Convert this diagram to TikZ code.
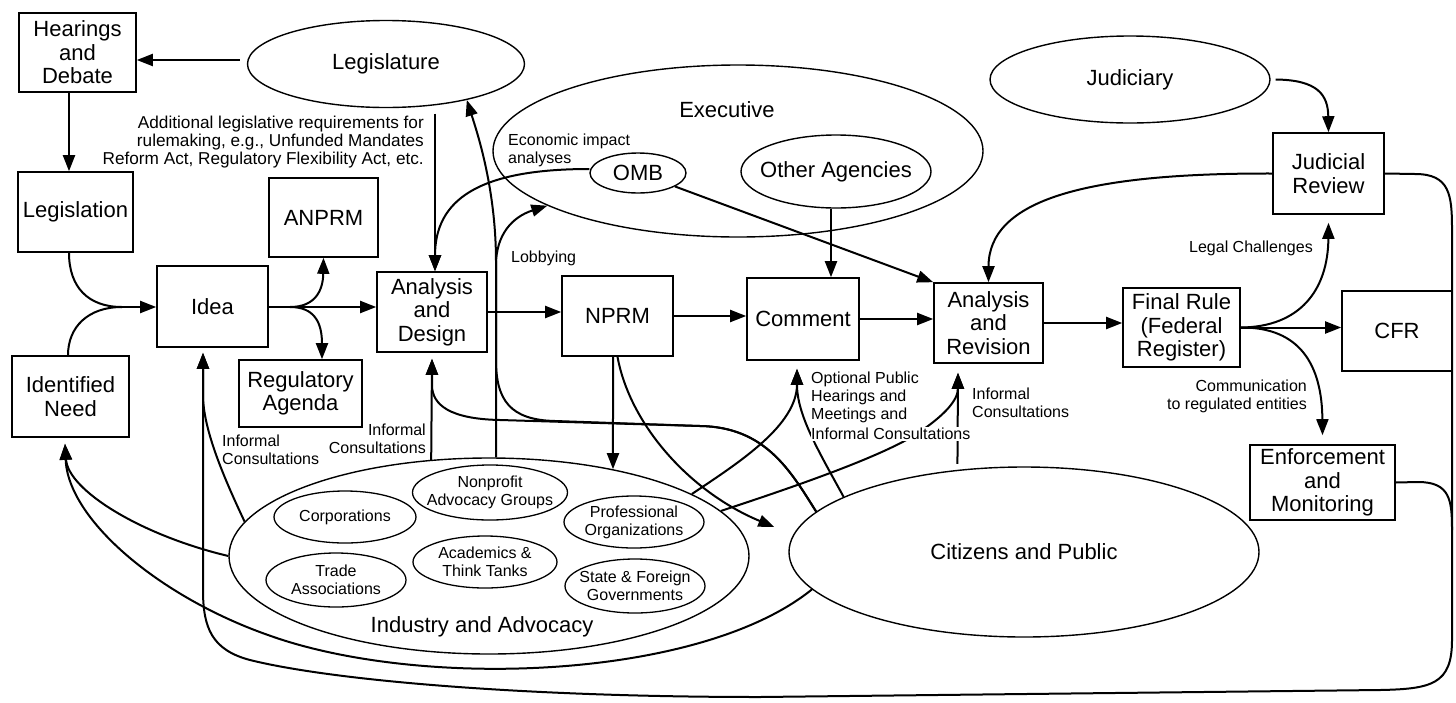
\documentclass[tikz,border=0pt]{standalone}
\usepackage{fontspec}
\setmainfont{Liberation Sans}
\usetikzlibrary{shapes.geometric,arrows.meta,calc}

\newcommand{\boxfont}{\fontsize{22}{23.5}\selectfont}
\newcommand{\notefont}{\fontsize{16}{18}\selectfont}
\newcommand{\lawfont}{\fontsize{17.2}{18}\selectfont}

\begin{document}
\begin{tikzpicture}[x=1pt,y=-1pt]

\tikzstyle{stepbox}=[rectangle,draw,line width=1.6pt,inner sep=0pt,align=center,font=\boxfont]
\tikzstyle{bodynode}=[ellipse,draw,line width=1.4pt,inner sep=0pt,inner xsep=-20pt,align=center,font=\boxfont]
\tikzstyle{groupnode}=[ellipse,draw,line width=1.3pt,inner sep=0pt,inner xsep=-15pt,align=center,font=\notefont]
\tikzstyle{note}=[inner sep=0pt,font=\notefont]
\tikzstyle{flow}=[line width=2pt]
\tikzstyle{flowarr}=[line width=2pt,-{Triangle[length=16pt,width=12pt]}]

\useasboundingbox (0,0) rectangle (1456,702);

\begin{scope}[]

% bodies
\node [bodynode,minimum width=277pt,minimum height=87pt] (legis) at (386,64){Legislature};
\node [bodynode,minimum width=490pt,minimum height=172pt] (exec) at (738,151){};
\node [font=\boxfont] (execlbl) at (727,110){Executive};
\node [bodynode,minimum width=96pt,minimum height=40pt] (omb) at (638,173){OMB};
\node [bodynode,minimum width=190pt,minimum height=73pt] (other) at (836,171.5){Other Agencies};
\node [bodynode,minimum width=280pt,minimum height=87pt] (judi) at (1130,79.5){Judiciary};
\node [bodynode,minimum width=520pt,minimum height=196pt] (industry) at (489,556){};
\node [font=\boxfont] (industrylbl) at (482,627){Industry and Advocacy};
\node [bodynode,minimum width=470pt,minimum height=170pt] (citizens) at (1024,552){Citizens and Public};

\node [groupnode,minimum width=142pt,minimum height=52pt] (corp) at (345,517){Corporations};
\node [groupnode,minimum width=155pt,minimum height=55pt] (nonprofit) at (490,492.5){Nonprofit\\Advocacy Groups};
\node [groupnode,minimum width=140pt,minimum height=52pt] (prof) at (634,522){Professional\\Organizations};
\node [groupnode,minimum width=140pt,minimum height=54pt] (trade) at (336,580){Trade\\Associations};
\node [groupnode,minimum width=144pt,minimum height=52pt] (academics) at (485,562){Academics \&\\Think Tanks};
\node [groupnode,minimum width=140pt,minimum height=54pt] (state) at (635,586){State \& Foreign\\Governments};

% steps
\node [stepbox,minimum width=117pt,minimum height=79pt] (hear) at (77.5,52.5){Hearings\\and\\Debate};
\node [stepbox,minimum width=115pt,minimum height=80pt] (legisl) at (75.5,212){Legislation};
\node [stepbox,minimum width=109pt,minimum height=79pt] (anprm) at (323.5,217.5){ANPRM};
\node [stepbox,minimum width=111pt,minimum height=81pt] (idea) at (212.5,306.5){Idea};
\node [stepbox,minimum width=117pt,minimum height=81pt] (need) at (70.5,396.5){Identified\\Need};
\node [stepbox,minimum width=123pt,minimum height=67pt] (agenda) at (300.5,393.5){Regulatory\\Agenda};
\node [stepbox,minimum width=110pt,minimum height=80pt] (design) at (432,312){Analysis\\and\\Design};
\node [stepbox,minimum width=111pt,minimum height=80pt] (nprm) at (617.5,316){NPRM};
\node [stepbox,minimum width=112pt,minimum height=82pt] (comment) at (803,319){Comment};
\node [stepbox,minimum width=109pt,minimum height=80pt] (revision) at (988.5,323){Analysis\\and\\Revision};
\node [stepbox,minimum width=117pt,minimum height=79pt] (final) at (1181.5,327.5){Final Rule\\(Federal\\Register)};
\node [stepbox,minimum width=110pt,minimum height=80pt] (cfr) at (1397,331){CFR};
\node [stepbox,minimum width=111pt,minimum height=81pt] (review) at (1328.5,173.5){Judicial\\Review};
\node [stepbox,minimum width=145pt,minimum height=75pt] (enforce) at (1322.5,482.5){Enforcement\\and\\Monitoring};

\coordinate (jin) at (122,307);
\coordinate (jout) at (290,307);

% main line
\draw[flowarr] ([xshift=-7pt,yshift=4pt]legis.west)--([yshift=-7.5pt]hear.east);
\draw[flowarr] ([xshift=-8.5pt]hear.south)--([xshift=-6.5pt]legisl.north);
\draw[flow] ([xshift=-6.5pt]legisl.south) .. controls (69,287) and (88,307) .. (jin);
\draw[flow] ([xshift=-2.5pt]need.north) .. controls (68,327) and (88,307) .. (jin);
\draw[flowarr] (jin)--(jin -| idea.west);
\draw[flow] (jout -| idea.east)--(jout);
\draw[flowarr] (jout)--(jout -| design.west);
\draw[flowarr] (jout) .. controls (314,307) and (323,292) .. (anprm.south);
\draw[flowarr] (jout) .. controls (314,307) and (322,322) .. ([xshift=21.5pt]agenda.north);
\draw[flowarr] (design.east)--(design.east -| nprm.west);
\draw[flowarr] (nprm.east)--(nprm.east -| comment.west);
\draw[flowarr] (comment.east)--(comment.east -| revision.west);
\draw[flowarr] (revision.east)--(revision.east -| final.west);
\draw[flowarr] (final.east)--(final.east -| cfr.west);

% government inputs
\draw[flowarr] ([xshift=49pt,yshift=-5.5pt]legis.south)--([xshift=3pt]design.north);
\draw[flowarr] ([yshift=4pt]omb.west) .. controls (478,169) and (435,200) .. ([xshift=3pt]design.north);
\draw[flowarr] ([xshift=-5pt]other.south)--([xshift=28pt]comment.north);
\draw[flowarr] (omb.-20)--(revision.north west);
\draw[flowarr] ([xshift=5pt]judi.east) .. controls (1318,80) and (1328,95) .. (review.north);
\draw[flowarr] (review.west) .. controls (1085,173) and (988.5,200) .. (revision.north);
\draw[flowarr] (final.east) .. controls (1300,327) and (1328,290) .. ([yshift=-8pt]review.south);
\draw[flowarr] (final.east) .. controls (1300,327) and (1322,365) .. ([yshift=9pt]enforce.north);

% feedback loop
\draw[flowarr] (review.east)--(1415,174) .. controls (1450,174) and (1452,195) .. (1452,230)--(1452,640) .. controls (1452,684) and (1432,689) .. (1380,690)--(760,697) .. controls (520,697) and (330,680) .. (250,660) .. controls (212,650) and (203,628) .. (203,590)--([xshift=-9.5pt,yshift=-5pt]idea.south);
\draw[flow] (enforce.east)--(1418,482) .. controls (1450,482) and (1452,500) .. (1452,530);

% industry and citizens
\draw[flowarr] (industry.west) .. controls (140,535) and (68,490) .. ([xshift=-5.5pt,yshift=-6pt]need.south);
\draw[flowarr] (citizens.190) .. controls (700,680) and (420,690) .. (268,635) .. controls (160,597) and (68,520) .. ([xshift=-5.5pt,yshift=-6pt]need.south);
\draw[flowarr] (industry.172) .. controls (225,480) and (203,430) .. (203,395)--([xshift=-9.5pt,yshift=-5pt]idea.south);
\draw[flowarr] (industry.121)--([yshift=-6pt]design.south);
\draw[flowarr] (citizens.169) .. controls (790,470) and (765,427) .. (700,426)--(500,420) .. controls (450,419) and (432,405) .. (432,385)--([yshift=-6pt]design.south);
\draw[flowarr] (citizens.169) .. controls (790,470) and (765,427) .. (700,426)--(555,421) .. controls (510,420) and (496,400) .. (496,360)--(496,262) .. controls (496,190) and (478,135) .. (legis.-24);
\draw[flowarr] ([xshift=7pt]industry.north)--(496,265) .. controls (496,235) and (512,217) .. (exec.196);
\draw[flowarr] ([xshift=-4.5pt]nprm.south)--(industry.35);
\draw[flowarr] (nprm.south) .. controls (630,425) and (690,492) .. ([xshift=-14pt,yshift=25pt]citizens.west);
\draw[flowarr] (industry.17) .. controls (740,462) and (797,425) .. ([xshift=-6pt,yshift=-8pt]comment.south);
\draw[flowarr] (citizens.163) .. controls (818,450) and (797,415) .. ([xshift=-6pt,yshift=-8pt]comment.south);
\draw[flowarr] (industry.11) .. controls (800,485) and (885,455) .. (918,433) .. controls (945,415) and (958,400) .. ([xshift=-30.5pt,yshift=-9pt]revision.south);
\draw[flowarr] ([yshift=6pt]citizens.129)--([xshift=-30.5pt,yshift=-9pt]revision.south);

% notes
\node [note,font=\lawfont,align=right,anchor=east] (lawnote) at (424,142){Additional legislative requirements for\\rulemaking, e.g., Unfunded Mandates\\Reform Act, Regulatory Flexibility Act, etc.};
\node [note,align=left,anchor=west] (econnote) at (508,150.5){Economic impact\\analyses};
\node [note,anchor=west] (lobbynote) at (511,258){Lobbying};
\node [note,align=left,anchor=west] (ideanote) at (222,450){Informal\\Consultations};
\node [note,align=right,anchor=east] (designnote) at (426,438.5){Informal\\Consultations};
\node [note,align=left,anchor=west] (hearnote) at (811,397.5){Optional Public\\Hearings and\\Meetings and};
\node [note,anchor=west,fill=white,inner ysep=1pt] (hearnote2) at (811,434){Informal Consultations};
\node [note,align=left,anchor=west] (revnote) at (972,402.5){Informal\\Consultations};
\node [note,anchor=east] (legalnote) at (1313,248){Legal Challenges};
\node [note,align=right,anchor=east] (commnote) at (1307,396){Communication\\to regulated entities};

\end{scope}
\end{tikzpicture}
\end{document}
